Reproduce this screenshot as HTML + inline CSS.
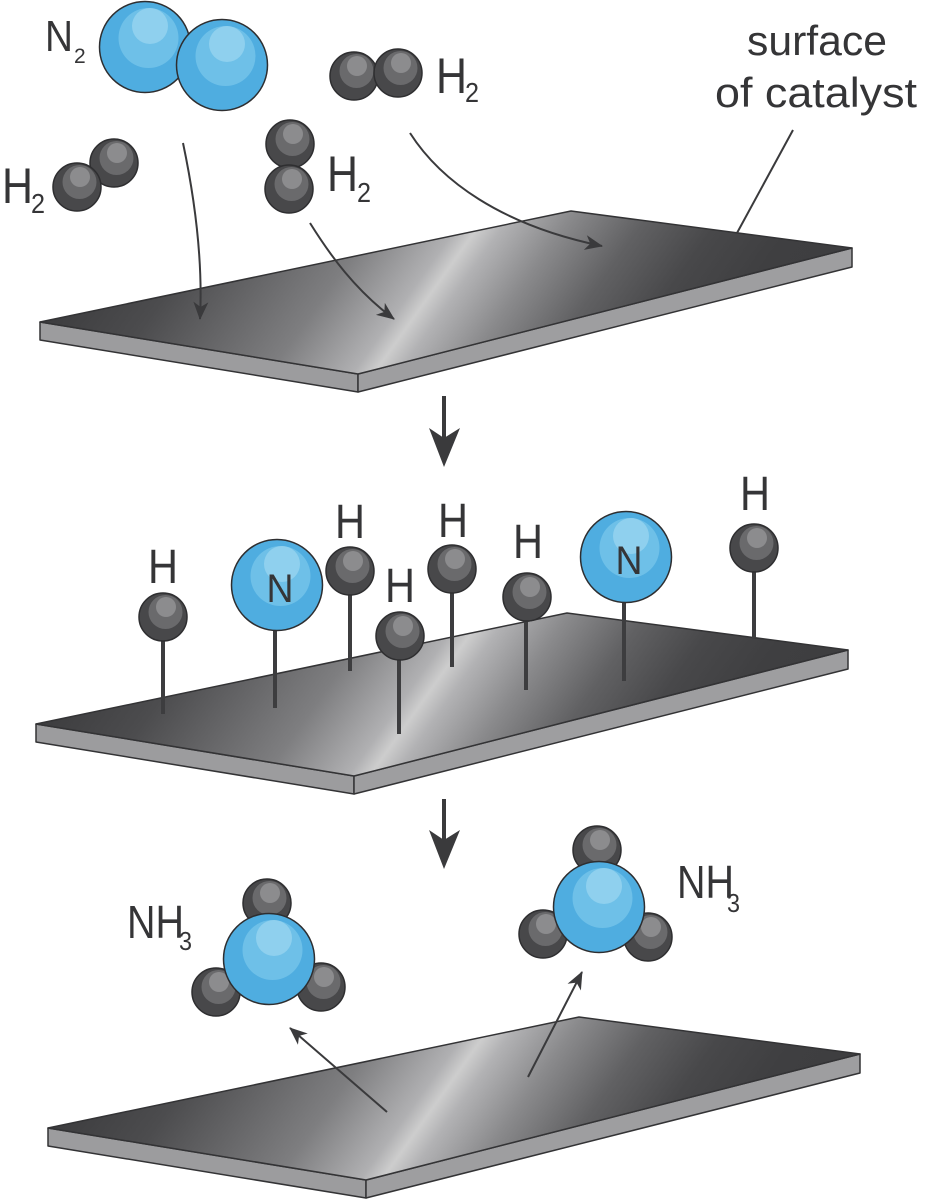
<!DOCTYPE html>
<html>
<head>
<meta charset="utf-8">
<style>
html,body{margin:0;padding:0;background:#fff;}
svg{display:block;}
.t{font-family:"Liberation Sans",sans-serif;fill:#353537;}
</style>
</head>
<body>
<svg width="925" height="1200" viewBox="0 0 925 1200" xmlns="http://www.w3.org/2000/svg">
<defs>
  <linearGradient id="pg" gradientUnits="userSpaceOnUse" x1="40" y1="322" x2="544.5" y2="680.4">
    <stop offset="0" stop-color="#3c3c3e"/>
    <stop offset="0.14" stop-color="#4c4c4e"/>
    <stop offset="0.35" stop-color="#7e7e80"/>
    <stop offset="0.46" stop-color="#b0b0b2"/>
    <stop offset="0.488" stop-color="#cdcdcd"/>
    <stop offset="0.52" stop-color="#b2b2b4"/>
    <stop offset="0.6" stop-color="#8a8a8c"/>
    <stop offset="0.7" stop-color="#616163"/>
    <stop offset="0.8" stop-color="#48484a"/>
    <stop offset="0.9" stop-color="#3f3f41"/>
    <stop offset="1" stop-color="#3e3e40"/>
  </linearGradient>
  <g id="plate">
    <polygon points="40,322 358,374 358,392 40,340" fill="#9c9c9e" stroke="#333335" stroke-width="1.5" stroke-linejoin="round"/>
    <polygon points="358,374 852,248 852,267 358,392" fill="#9e9e a0" stroke="#333335" stroke-width="1.5" stroke-linejoin="round" style="fill:#9e9ea0"/>
    <polygon points="40,322 571,211 852,248 358,374" fill="url(#pg)" stroke="#333335" stroke-width="1.5" stroke-linejoin="round"/>
  </g>
  <g id="hb">
    <circle r="24" fill="#48484a" stroke="#2e2e30" stroke-width="1.5"/>
    <circle cx="2.5" cy="-5" r="17" fill="#6a6a6c"/>
    <circle cx="3" cy="-10" r="10" fill="#8c8c8e"/>
  </g>
  <g id="nb">
    <circle r="45.5" fill="#4fade0" stroke="#2e2e30" stroke-width="1.5"/>
    <circle cx="3.5" cy="-9" r="30" fill="#6ec0e8"/>
    <circle cx="5" cy="-21" r="18" fill="#8fd0ee"/>
  </g>
  <marker id="ah" markerUnits="userSpaceOnUse" markerWidth="22" markerHeight="20" viewBox="-20 -10 22 20" refX="0" refY="0" orient="auto" overflow="visible">
    <path d="M1,0 L-17,-7.5 L-12,0 L-17,7.5 Z" fill="#3a3a3c"/>
  </marker>
</defs>

<!-- ===== Plate 1 ===== -->
<use href="#plate"/>

<!-- arrows on plate 1 -->
<g fill="none" stroke="#3a3a3c" stroke-width="2" marker-end="url(#ah)">
  <path d="M183,143 C195,200 203,260 200,319"/>
  <path d="M310,223 C330,255 355,290 394,319"/>
  <path d="M410,133 C440,180 500,225 602,246"/>
</g>
<line x1="793" y1="130" x2="737" y2="233" stroke="#3a3a3c" stroke-width="2"/>

<!-- molecules top -->
<use href="#nb" x="145" y="47"/>
<use href="#nb" x="222" y="65"/>

<use href="#hb" x="354" y="76"/>
<use href="#hb" x="398" y="73"/>

<use href="#hb" x="114" y="163"/>
<use href="#hb" x="77" y="187"/>

<use href="#hb" x="290" y="144"/>
<use href="#hb" x="289" y="189"/>

<!-- labels top -->
<text class="t" x="45" y="51" font-size="44" textLength="28" lengthAdjust="spacingAndGlyphs">N</text>
<text class="t" x="74" y="63" font-size="21">2</text>

<text class="t" x="436" y="93" font-size="50" textLength="31" lengthAdjust="spacingAndGlyphs">H</text>
<text class="t" x="465" y="102" font-size="28" textLength="14" lengthAdjust="spacingAndGlyphs">2</text>

<text class="t" x="2" y="203" font-size="50" textLength="31" lengthAdjust="spacingAndGlyphs">H</text>
<text class="t" x="31" y="213" font-size="28" textLength="14" lengthAdjust="spacingAndGlyphs">2</text>

<text class="t" x="327" y="191" font-size="50" textLength="31" lengthAdjust="spacingAndGlyphs">H</text>
<text class="t" x="357" y="202" font-size="28" textLength="14" lengthAdjust="spacingAndGlyphs">2</text>

<text class="t" x="747" y="55" font-size="42" textLength="140" lengthAdjust="spacingAndGlyphs">surface</text>
<text class="t" x="715" y="107" font-size="42" textLength="202" lengthAdjust="spacingAndGlyphs">of catalyst</text>

<!-- big arrow 1 -->
<rect x="442" y="396" width="4" height="42" fill="#3a3a3c"/>
<polygon points="444,467 429,428 444,438 460,428" fill="#3a3a3c"/>

<!-- ===== Plate 2 ===== -->
<use href="#plate" transform="translate(-4,402)"/>

<g stroke="#3d3d3f" stroke-width="4">
  <line x1="163" y1="617" x2="163" y2="714"/>
  <line x1="275" y1="585" x2="275" y2="708"/>
  <line x1="350" y1="571" x2="350" y2="671"/>
  <line x1="399" y1="636" x2="399" y2="734"/>
  <line x1="452" y1="569" x2="452" y2="667"/>
  <line x1="526" y1="597" x2="526" y2="690"/>
  <line x1="624" y1="557" x2="624" y2="681"/>
  <line x1="754" y1="548" x2="754" y2="638"/>
</g>

<use href="#hb" x="163" y="617"/>
<use href="#nb" x="277" y="585"/>
<use href="#hb" x="350" y="571"/>
<use href="#hb" x="400" y="636"/>
<use href="#hb" x="452" y="569"/>
<use href="#hb" x="527" y="597"/>
<use href="#nb" x="626" y="557"/>
<use href="#hb" x="754" y="548"/>

<text class="t" x="280" y="602" font-size="40" text-anchor="middle" textLength="27" lengthAdjust="spacingAndGlyphs">N</text>
<text class="t" x="629" y="574" font-size="40" text-anchor="middle" textLength="27" lengthAdjust="spacingAndGlyphs">N</text>

<g class="t" font-size="48" text-anchor="middle">
  <text class="t" x="163" y="583" textLength="30" lengthAdjust="spacingAndGlyphs">H</text>
  <text class="t" x="350" y="538" textLength="30" lengthAdjust="spacingAndGlyphs">H</text>
  <text class="t" x="400" y="602" textLength="30" lengthAdjust="spacingAndGlyphs">H</text>
  <text class="t" x="453" y="537" textLength="30" lengthAdjust="spacingAndGlyphs">H</text>
  <text class="t" x="528" y="558" textLength="30" lengthAdjust="spacingAndGlyphs">H</text>
  <text class="t" x="755" y="510" textLength="30" lengthAdjust="spacingAndGlyphs">H</text>
</g>

<!-- big arrow 2 -->
<rect x="442" y="799" width="4" height="41" fill="#3a3a3c"/>
<polygon points="444,869 429,830 444,840 460,830" fill="#3a3a3c"/>

<!-- ===== Plate 3 ===== -->
<use href="#plate" transform="translate(8,806)"/>

<g fill="none" stroke="#3a3a3c" stroke-width="2" marker-end="url(#ah)">
  <path d="M387,1112 L290,1028"/>
  <path d="M528,1077 L582,972"/>
</g>

<!-- NH3 left -->
<use href="#hb" x="267" y="903"/>
<use href="#hb" x="216" y="992"/>
<use href="#hb" x="321" y="987"/>
<use href="#nb" x="269" y="959"/>

<!-- NH3 right -->
<use href="#hb" x="597" y="850"/>
<use href="#hb" x="543" y="934"/>
<use href="#hb" x="648" y="937"/>
<use href="#nb" x="599" y="907"/>

<text class="t" x="127" y="938" font-size="46" textLength="57" lengthAdjust="spacingAndGlyphs">NH</text>
<text class="t" x="179" y="950" font-size="26" textLength="13" lengthAdjust="spacingAndGlyphs">3</text>

<text class="t" x="677" y="898" font-size="46" textLength="57" lengthAdjust="spacingAndGlyphs">NH</text>
<text class="t" x="727" y="912" font-size="26" textLength="13" lengthAdjust="spacingAndGlyphs">3</text>
</svg>
</body>
</html>
